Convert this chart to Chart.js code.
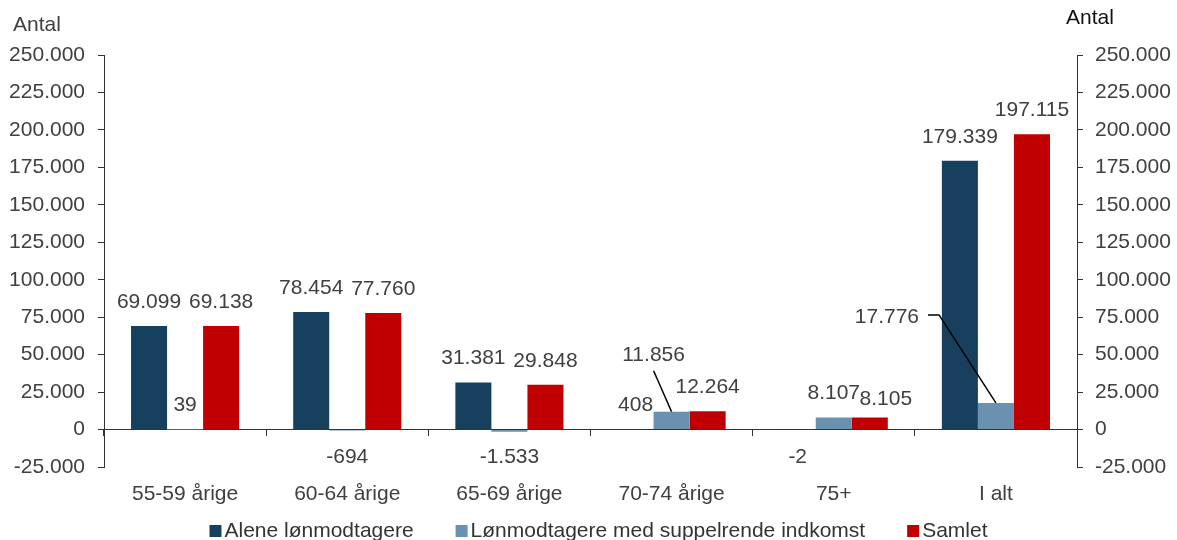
<!DOCTYPE html>
<html>
<head>
<meta charset="utf-8">
<script src="https://cdn.jsdelivr.net/npm/chart.js@4.4.1/dist/chart.umd.min.js"></script>
<style>
  body { margin:0; background:#fff; }
  #wrap { width:1177px; height:540px; position:relative; }
</style>
</head>
<body>
<div id="wrap"><canvas id="c"></canvas></div>
<script>
// data
const categories = ['55-59 årige', '60-64 årige', '65-69 årige', '70-74 årige', '75+', 'I alt'];
const alene = [69099, 78454, 31381, 408, -2, 179339];
const suppl = [39, -694, -1533, 11856, 8107, 17776];
const samlet = [69138, 77760, 29848, 12264, 8105, 197115];
const yMin = -25000, yMax = 250000, yStep = 25000;

const FONT = '"Liberation Sans", Arial, sans-serif';
const TXT = '#404040';

function fmt(v) {
  const s = Math.abs(v).toString().replace(/\B(?=(\d{3})+(?!\d))/g, '.');
  return (v < 0 ? '-' : '') + s;
}

// a few labels are moved off their bar (datasetIndex-index)
const labelShift = {
  '1-3': { dx: -18, dy: -33, leader: 'down' },
  '2-4': { dx: 16, dy: 6 },
  '1-5': { dx: -109, dy: -62, leader: 'elbow' }
};

const valueLabels = {
  id: 'valueLabels',
  afterDatasetsDraw(chart) {
    const ctx = chart.ctx;
    const zero = chart.scales.y.getPixelForValue(0);
    ctx.save();
    ctx.font = '21px ' + FONT;
    ctx.fillStyle = TXT;
    ctx.textAlign = 'center';
    ctx.textBaseline = 'middle';
    ctx.strokeStyle = '#000';
    ctx.lineWidth = 1.5;
    chart.data.datasets.forEach((ds, di) => {
      chart.getDatasetMeta(di).data.forEach((bar, i) => {
        const v = ds.data[i];
        const txt = fmt(v);
        let x = bar.x;
        let y = v >= 0 ? bar.y - 24 : zero + 28;
        const s = labelShift[di + '-' + i];
        if (s) { x += s.dx; y += s.dy; }
        ctx.fillText(txt, x, y);
        if (s && s.leader === 'down') {
          ctx.beginPath();
          ctx.moveTo(x, y + 16);
          ctx.lineTo(bar.x, bar.y);
          ctx.stroke();
        } else if (s && s.leader === 'elbow') {
          const w = ctx.measureText(txt).width / 2;
          ctx.beginPath();
          ctx.moveTo(x + w + 9, y - 2);
          ctx.lineTo(x + w + 20, y - 2);
          ctx.lineTo(bar.x, bar.y);
          ctx.stroke();
        }
      });
    });
    ctx.restore();
  }
};

const extras = {
  id: 'extras',
  afterDraw(chart) {
    const ctx = chart.ctx;
    const area = chart.chartArea;
    ctx.save();
    ctx.font = '21px ' + FONT;
    ctx.textBaseline = 'middle';
    // axis titles
    ctx.fillStyle = TXT;
    ctx.textAlign = 'left';
    ctx.fillText('Antal', 13, 25);
    ctx.fillStyle = '#111';
    ctx.fillText('Antal', 1066, 18);
    // legend
    const items = chart.data.datasets.map(d => ({ label: d.label, color: d.backgroundColor }));
    const box = 12, gap = 3, spacing = 42;
    const widths = items.map(it => box + gap + ctx.measureText(it.label).width);
    const total = widths.reduce((a, b) => a + b, 0) + spacing * (items.length - 1);
    let x = (area.left + area.right) / 2 + 8 - total / 2;
    const y = 531;
    items.forEach((it, k) => {
      ctx.fillStyle = it.color;
      ctx.fillRect(x, y - box / 2, box, box);
      ctx.fillStyle = '#333';
      ctx.fillText(it.label, x + box + gap, y);
      x += widths[k] + spacing;
    });
    ctx.restore();
  }
};

const tickFont = { family: FONT, size: 21 };

new Chart(document.getElementById('c'), {
  type: 'bar',
  data: {
    labels: categories,
    datasets: [
      { label: 'Alene lønmodtagere', data: alene, backgroundColor: '#17405f' },
      { label: 'Lønmodtagere med suppelrende indkomst', data: suppl, backgroundColor: '#6a91b0' },
      { label: 'Samlet', data: samlet, backgroundColor: '#c00000' }
    ]
  },
  options: {
    responsive: true, maintainAspectRatio: false, animation: false,
    categoryPercentage: 2 / 3, barPercentage: 1,
    layout: { padding: { top: 55, bottom: 28, left: 0, right: 0 } },
    plugins: { legend: { display: false }, tooltip: { enabled: false } },
    scales: {
      x: {
        position: { y: 0 },
        offset: true,
        grid: { display: true, offset: true, drawOnChartArea: false, drawTicks: true, tickLength: 6, color: '#333' },
        border: { display: true, color: '#333' },
        ticks: { display: false }
      },
      x2: {
        type: 'category',
        position: 'bottom',
        offset: true,
        grid: { display: false },
        border: { display: false },
        ticks: { font: tickFont, color: TXT, padding: 7, maxRotation: 0 },
        afterFit: s => { s.height = 45; }
      },
      y: {
        position: 'left',
        min: yMin, max: yMax,
        ticks: { stepSize: yStep, font: tickFont, color: TXT, padding: 13, callback: v => fmt(v) },
        grid: { drawOnChartArea: false, drawTicks: true, tickLength: 6, color: '#333' },
        border: { display: true, color: '#333' },
        afterFit: s => { s.width = 104; }
      },
      y2: {
        position: 'right',
        min: yMin, max: yMax,
        ticks: { stepSize: yStep, font: tickFont, color: TXT, padding: 12, callback: v => fmt(v) },
        grid: { drawOnChartArea: false, drawTicks: true, tickLength: 6, color: '#333' },
        border: { display: true, color: '#333' },
        afterFit: s => { s.width = 100; }
      }
    }
  },
  plugins: [valueLabels, extras]
});
</script>
</body>
</html>
